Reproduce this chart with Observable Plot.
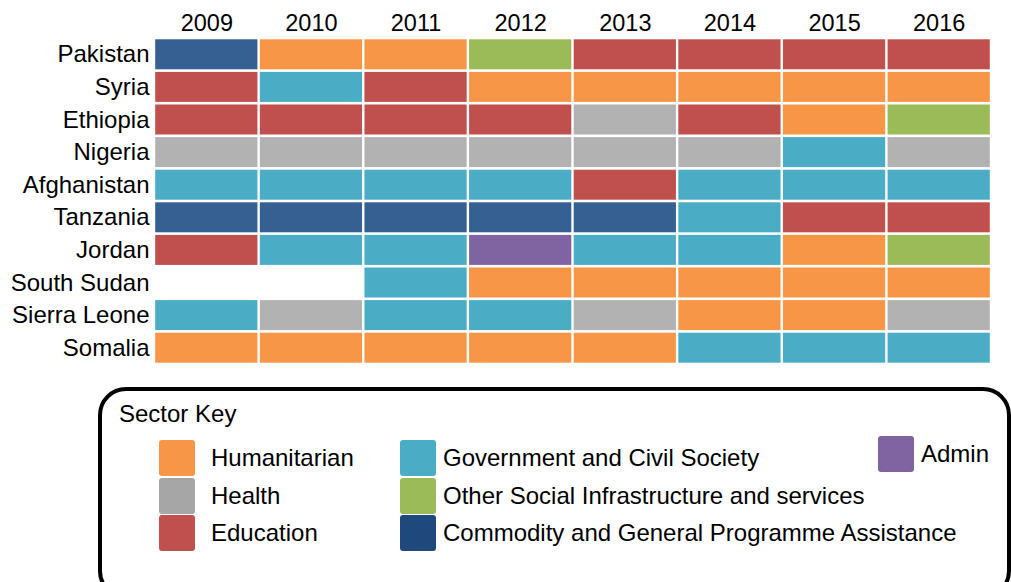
<!DOCTYPE html>
<html><head><meta charset="utf-8">
<script src="https://cdn.jsdelivr.net/npm/d3@7"></script>
<script src="https://cdn.jsdelivr.net/npm/@observablehq/plot@0.6"></script>
<style>
html,body{margin:0;padding:0;background:#fff;overflow:hidden}
body{font-family:"Liberation Sans",Arial,sans-serif;color:#000}
#wrap{position:relative;width:1011px;height:582px;overflow:hidden}
#chart{position:absolute;left:0;top:0}
#box{position:absolute;left:98px;top:387px;width:913px;height:212px;border:4px solid #000;border-radius:28px;box-sizing:border-box}
.t{position:absolute;font-size:24px;line-height:36px;height:36px;white-space:nowrap}
.sw{position:absolute;width:36px;height:36px;border-radius:3px}
</style></head>
<body>
<div id="wrap">
<div id="chart"></div>
<div id="box"></div>
<div id="legend"></div>
</div>
<script>
const years = ["2009","2010","2011","2012","2013","2014","2015","2016"];
const countries = ["Pakistan","Syria","Ethiopia","Nigeria","Afghanistan","Tanzania","Jordan","South Sudan","Sierra Leone","Somalia"];
const sectors = ["Humanitarian","Health","Education","Government and Civil Society","Other Social Infrastructure and services","Commodity and General Programme Assistance","Admin"];
const codes = ["HUM","HEA","EDU","GOV","OSI","COM","ADM"];
const cellColors = ["#F79646","#B2B2B2","#C0504D","#4BACC6","#9BBB59","#376092","#8064A2"];
const keyColors = ["#F79646","#A6A6A6","#C0504D","#4BACC6","#9BBB59","#1F497D","#8064A2"];

const pakistan    = ["COM","HUM","HUM","OSI","EDU","EDU","EDU","EDU"];
const syria       = ["EDU","GOV","EDU","HUM","HUM","HUM","HUM","HUM"];
const ethiopia    = ["EDU","EDU","EDU","EDU","HEA","EDU","HUM","OSI"];
const nigeria     = ["HEA","HEA","HEA","HEA","HEA","HEA","GOV","HEA"];
const afghanistan = ["GOV","GOV","GOV","GOV","EDU","GOV","GOV","GOV"];
const tanzania    = ["COM","COM","COM","COM","COM","GOV","EDU","EDU"];
const jordan      = ["EDU","GOV","GOV","ADM","GOV","GOV","HUM","OSI"];
const southSudan  = [null,null,"GOV","HUM","HUM","HUM","HUM","HUM"];
const sierraLeone = ["GOV","HEA","GOV","GOV","HEA","HUM","HUM","HEA"];
const somalia     = ["HUM","HUM","HUM","HUM","HUM","GOV","GOV","GOV"];

const rows = [pakistan,syria,ethiopia,nigeria,afghanistan,tanzania,jordan,southSudan,sierraLeone,somalia];
const data = [];
rows.forEach((r,i)=>r.forEach((c,j)=>{ if(c) data.push({country:countries[i],year:years[j],sector:sectors[codes.indexOf(c)]}); }));

const chart = Plot.plot({
  width:1011, height:370,
  marginLeft:154, marginRight:20, marginTop:38, marginBottom:6,
  x:{domain:years, padding:0, round:false},
  y:{domain:countries, padding:0, round:false},
  color:{domain:sectors, range:cellColors},
  style:{fontFamily:"'Liberation Sans', Arial, sans-serif", fontSize:"24px", color:"#000", background:"#fff"},
  marks:[
    Plot.cell(data,{x:"year",y:"country",fill:"sector",insetLeft:1.2,insetRight:1.2,insetTop:1.3,insetBottom:1.3}),
    Plot.axisX({anchor:"top",tickSize:0,tickPadding:8,fontSize:23.5,label:null}),
    Plot.axisY({anchor:"left",tickSize:0,tickPadding:5,fontSize:24,label:null})
  ]
});
document.getElementById("chart").appendChild(chart);

const legend = document.getElementById("legend");
const title = document.createElement("div");
title.className="t"; title.textContent="Sector Key";
title.style.left="119px"; title.style.top="396px";
legend.appendChild(title);
const pos = [
  [159,440,211],[159,478,211],[159,515,211],
  [400,440,443],[400,478,443],[400,515,443],
  [878,436,921]
];
sectors.forEach((s,i)=>{
  const [x,y,tx]=pos[i];
  const sw=document.createElement("div"); sw.className="sw";
  sw.style.left=x+"px"; sw.style.top=y+"px"; sw.style.background=keyColors[i];
  legend.appendChild(sw);
  const t=document.createElement("div"); t.className="t"; t.textContent=s;
  t.style.left=tx+"px"; t.style.top=y+"px";
  legend.appendChild(t);
});
</script>
</body></html>
